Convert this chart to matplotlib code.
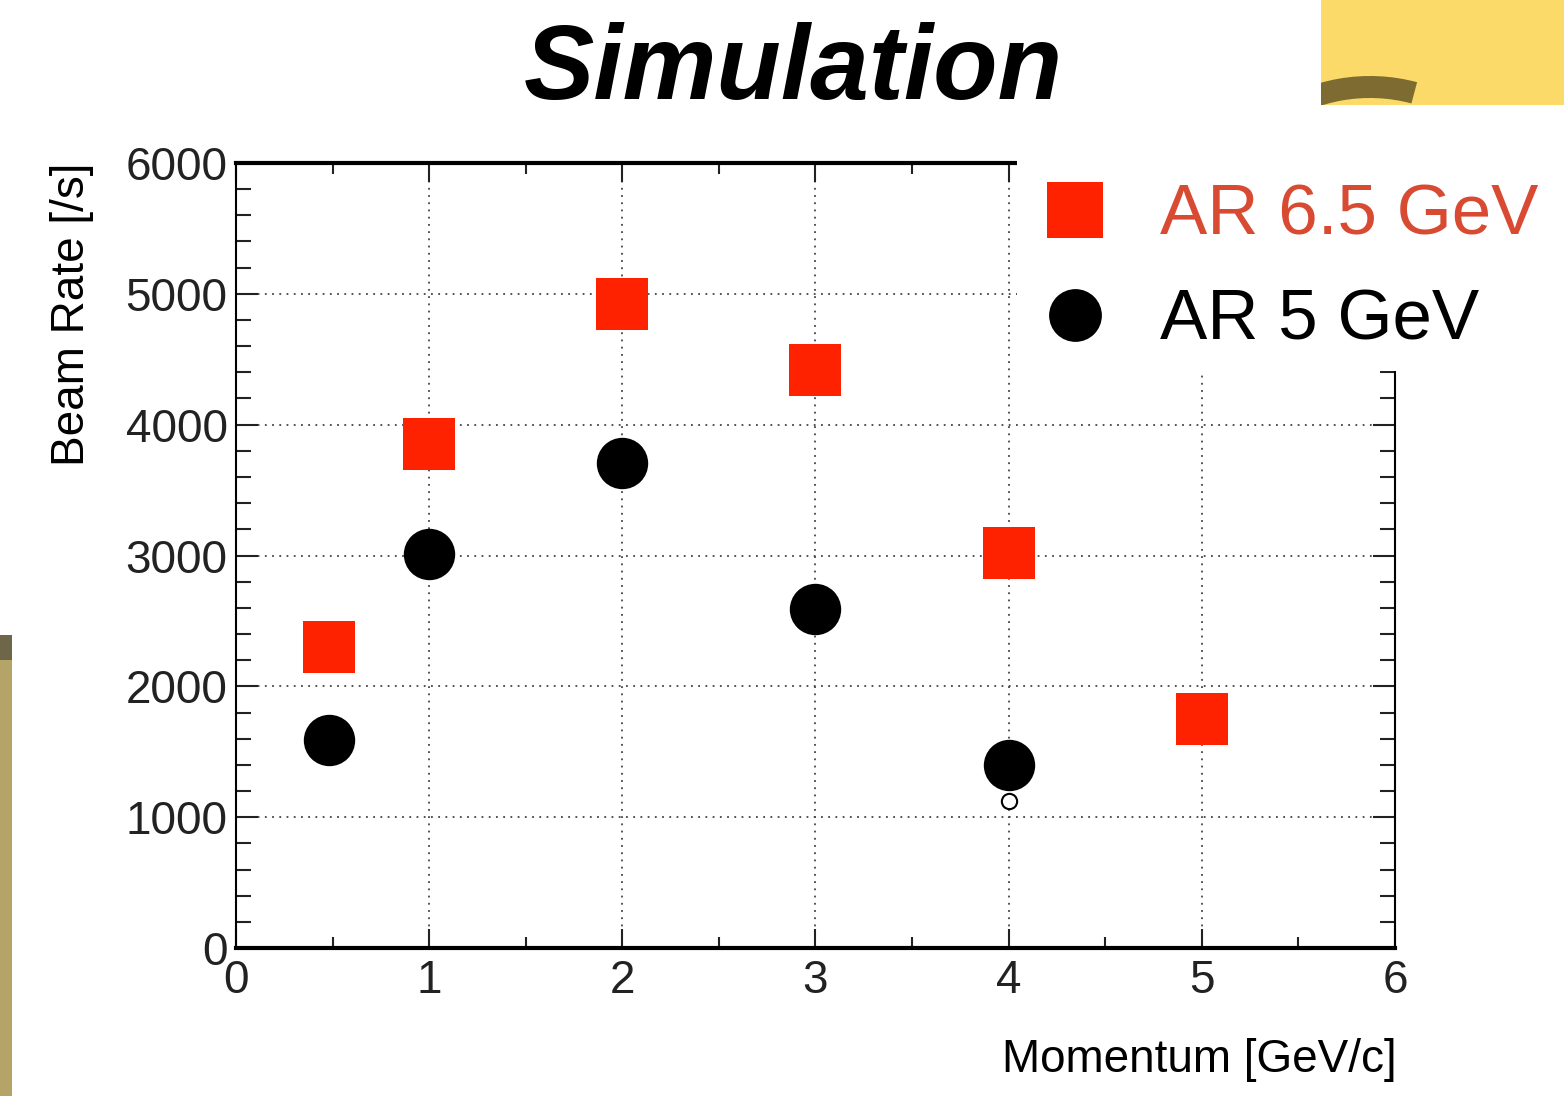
import numpy as np
import matplotlib
matplotlib.use("Agg")
import matplotlib.pyplot as plt
from matplotlib.patches import Rectangle, Wedge
from matplotlib.lines import Line2D
from matplotlib.ticker import MultipleLocator

# data
p_red = [0.48, 1, 2, 3, 4, 5]                # momentum [GeV/c], AR 6.5 GeV
rate_red = [2300, 3850, 4920, 4420, 3020, 1750]
p_black = [0.48, 1, 2, 3, 4]                 # AR 5 GeV
rate_black = [1590, 3010, 3710, 2590, 1400]
p_open = [4]                                 # small open marker
rate_open = [1120]

labels = ["AR 6.5 GeV", "AR 5 GeV"]
red = "#ff2200"
red_txt = "#d84a32"

plt.rcParams['font.family'] = ['Liberation Sans', 'DejaVu Sans']

fig = plt.figure(figsize=(15.64, 10.96), dpi=100)
ax = fig.add_axes([0.1509, 0.1350, 0.7410, 0.7163])

ax.plot(p_red, rate_red, 's', color=red, markersize=38, markeredgewidth=0, zorder=3)
ax.plot(p_black, rate_black, 'o', color='black', markersize=37, markeredgewidth=0, zorder=3)
ax.plot(p_open, rate_open, 'o', mfc='white', mec='black', markersize=11, mew=1.5, zorder=2)

ax.set_xlim(0, 6)
ax.set_ylim(0, 6000)
ax.xaxis.set_major_locator(MultipleLocator(1))
ax.xaxis.set_minor_locator(MultipleLocator(0.5))
ax.yaxis.set_major_locator(MultipleLocator(1000))
ax.yaxis.set_minor_locator(MultipleLocator(200))

ax.grid(True, which='major', color='#444444', linestyle=(0, (1, 3)), linewidth=1.3)
ax.tick_params(which='both', direction='in', top=True, right=True, width=1.5, colors='#222222')
ax.tick_params(axis='y', which='major', length=16, labelsize=33, pad=6)
ax.tick_params(axis='y', which='minor', length=11)
ax.tick_params(axis='x', which='major', length=14, labelsize=33, pad=8)
ax.tick_params(axis='x', which='minor', length=8)
for s in ['left', 'right']:
    ax.spines[s].set_linewidth(1.5)
for s in ['top', 'bottom']:
    ax.spines[s].set_linewidth(3)

ax.set_ylabel("Beam Rate [/s]", fontsize=33, loc='top', labelpad=23)
fig.text(0.8932, 0.033, "Momentum [GeV/c]", fontsize=33, ha='right', va='center')

# white box that hides the upper right part of the frame
fig.add_artist(Rectangle((0.6503, 0.6615), 0.3497, 0.229, transform=fig.transFigure,
                         facecolor='white', edgecolor='none', zorder=5))

handles = [Line2D([], [], marker='s', ls='none', color=red, markersize=40, mew=0),
           Line2D([], [], marker='o', ls='none', color='black', markersize=38, mew=0)]
leg = fig.legend(handles, labels, loc='upper left', bbox_to_anchor=(0.642, 0.865),
                 frameon=False, fontsize=51, handlelength=1.0, handletextpad=0.7,
                 labelspacing=0.55, borderpad=0, labelcolor=[red_txt, 'black'])
leg.set_zorder(6)

fig.text(0.507, 0.935, "Simulation", fontsize=76, fontweight='bold', fontstyle='italic',
         ha='center', va='center')

# bits of the slide background (pixel coordinates)
box = Rectangle((1321, 1096 - 105), 243, 105, transform=None,
                facecolor='#fcda6a', edgecolor='none', zorder=4)
fig.add_artist(box)
arc = Wedge((1370, 1096 - 258), 182, 75, 125, width=22, transform=None,
            facecolor='#7d6b31', edgecolor='none', zorder=4.5)
fig.add_artist(arc)
arc.set_clip_path(box)
fig.add_artist(Rectangle((0, 0), 12, 461, transform=None,
                         facecolor='#b4a468', edgecolor='none', zorder=4))
fig.add_artist(Rectangle((0, 436), 12, 25, transform=None,
                         facecolor='#6e6648', edgecolor='none', zorder=4))

fig.savefig("out.png", dpi=100)
